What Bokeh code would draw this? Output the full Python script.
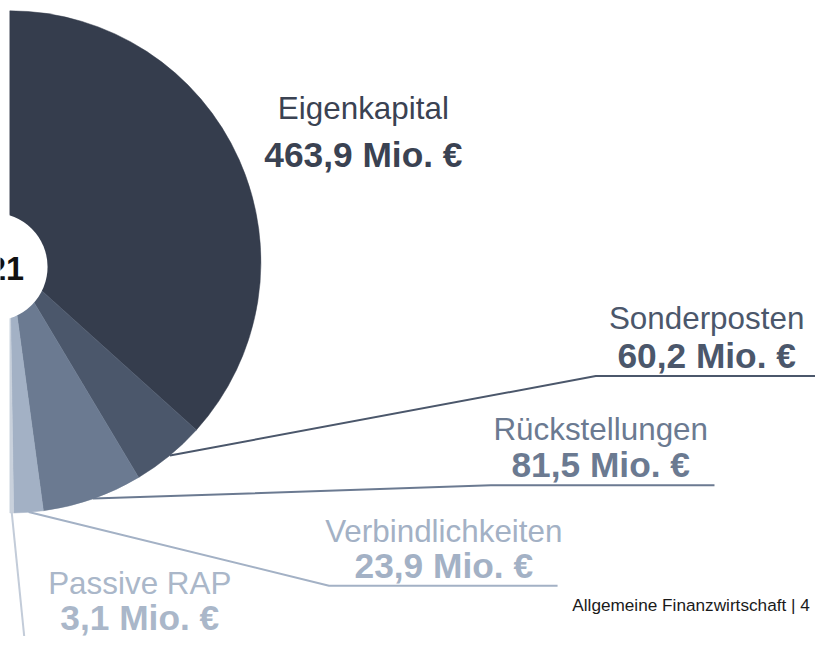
import math
from bokeh.plotting import figure
from bokeh.models import Range1d, ColumnDataSource
from bokeh.core.properties import value
from bokeh.embed import file_html
from bokeh.resources import INLINE

# ---- data ----
categories = ["Eigenkapital", "Sonderposten", "Rückstellungen", "Verbindlichkeiten", "Passive RAP"]
values = [463.9, 60.2, 81.5, 23.9, 3.1]
unit = "Mio. €"
year_label = "2021"
footer_text = "Allgemeine Finanzwirtschaft | 4"

# ---- styles / layout ----
slice_colors = ["#353d4d", "#4b576b", "#6b7a91", "#a3b1c5", "#c9d1dc"]
name_colors = ["#3a4252", "#4b576b", "#6b7a91", "#a3b1c5", "#aab7c9"]
line_colors = ["#3a4252", "#4b576b", "#6b7a91", "#a3b1c5", "#c3ccd9"]
FONT = "Liberation Sans"

W, H = 815, 636          # canvas in px
RW, RH = 831, 652        # design space (reference pixels)
S = W / RW
K = 0.39                 # baseline correction (fraction of font size)

def Y(py):
    return RH - py

def TY(base, size):
    # text y for a desired alphabetic baseline
    return Y(base - K * size)

def fs(px):
    return f"{px * S:.1f}px"

NAME_FS, VAL_FS, YEAR_FS, FOOT_FS = 32, 36, 33, 17.5

cx, cy, R = 9.5, Y(268), 256
hole_x, hole_y, hole_r = -7, Y(273), 55

# label anchor positions (design coords): centre x, name baseline, value baseline
label_cx = [370, 720, 612, 452, 142]
name_base = [123, 338, 452, 557, 610]
val_base = [172, 378, 490, 593, 647]
# leader elbow and end (design coords); None for Eigenkapital
elbow = [None, (607, 385), (500, 497), (335, 600), (25, 660)]
line_end = [None, (840, 385), (728, 497), (568, 600), (25, 660)]

p = figure(width=W, height=H, x_range=Range1d(0, RW), y_range=Range1d(0, RH),
           output_backend="svg", toolbar_location=None, min_border=0)
p.axis.visible = False
p.grid.visible = False
p.outline_line_color = None
p.background_fill_color = "white"
p.border_fill_color = "white"

total = sum(values)
starts, ends, mids = [], [], []
cum = 0.0
for v in values:
    a0 = math.pi / 2 - cum / total * math.pi
    cum += v
    a1 = math.pi / 2 - cum / total * math.pi
    starts.append(a0)
    ends.append(a1)
    mids.append((a0 + a1) / 2)

src = ColumnDataSource(dict(x=[cx] * len(values), y=[cy] * len(values),
                            start=starts, end=ends, color=slice_colors))
p.wedge(x="x", y="y", radius=R, start_angle="start", end_angle="end",
        direction="clock", fill_color="color", line_color="color", line_width=0.5,
        source=src)

# donut hole
p.circle(x=[hole_x], y=[hole_y], radius=hole_r, fill_color="white", line_color=None)
p.text(x=[24], y=[TY(288, YEAR_FS)], text=[year_label], text_align="right", text_baseline="alphabetic",
       text_font=value(FONT), text_font_style="bold", text_font_size=fs(YEAR_FS), text_color="#111111")

# leader lines
for i in range(1, len(values)):
    sx = cx + (R + 1) * math.cos(mids[i])
    sy = cy + (R + 1) * math.sin(mids[i])
    ex, ey = elbow[i]
    fx, fy = line_end[i]
    p.line(x=[sx, ex, fx], y=[sy, Y(ey), Y(fy)], line_color=line_colors[i], line_width=2)

# labels
val_texts = [f"{v:.1f}".replace(".", ",") + " " + unit for v in values]
name_src = ColumnDataSource(dict(x=label_cx, y=[TY(b, NAME_FS) for b in name_base], t=categories, c=name_colors))
val_src = ColumnDataSource(dict(x=label_cx, y=[TY(b, VAL_FS) for b in val_base], t=val_texts, c=name_colors))
p.text(x="x", y="y", text="t", text_color="c", source=name_src, text_align="center",
       text_baseline="alphabetic", text_font=value(FONT), text_font_size=fs(NAME_FS))
p.text(x="x", y="y", text="t", text_color="c", source=val_src, text_align="center",
       text_baseline="alphabetic", text_font=value(FONT), text_font_style="bold", text_font_size=fs(VAL_FS))

# footer
p.text(x=[583], y=[TY(627, FOOT_FS)], text=[footer_text], text_align="left", text_baseline="alphabetic",
       text_font=value(FONT), text_font_size=fs(FOOT_FS), text_color="#1a1a1a")

open("out.html", "w").write(file_html(p, INLINE))
